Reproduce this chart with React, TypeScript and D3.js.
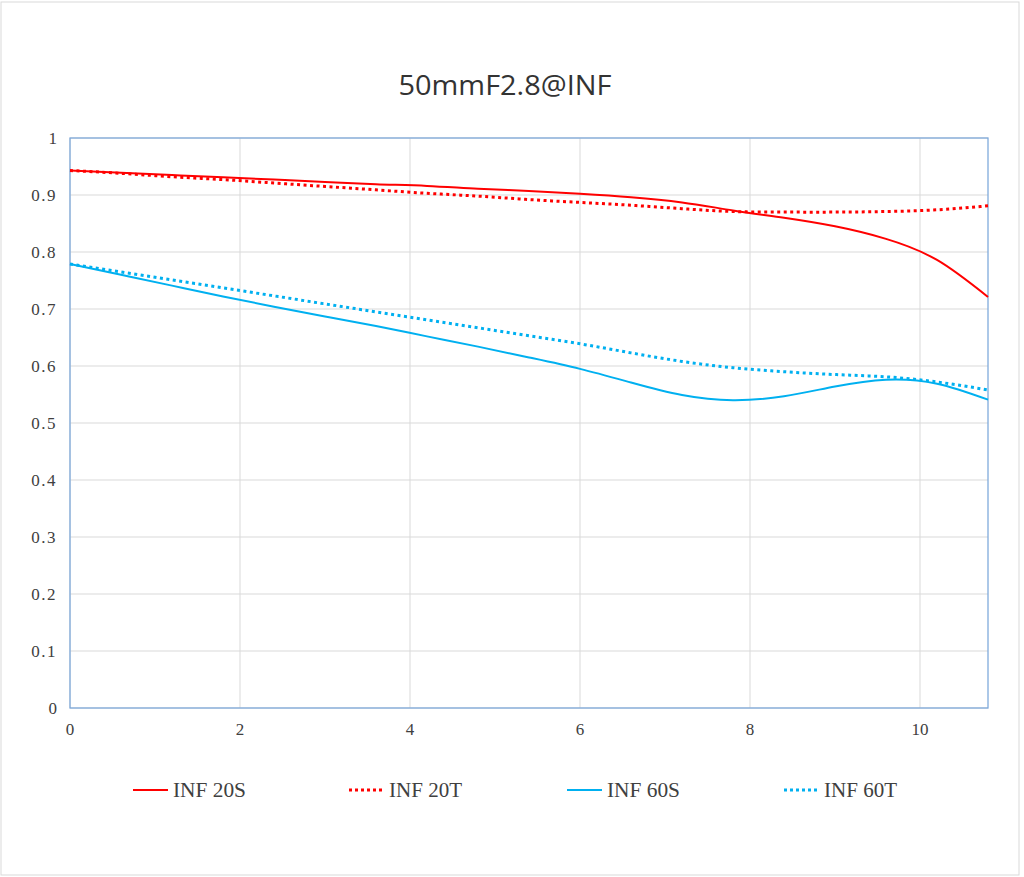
import * as d3 from 'd3';
import React from 'react';

// 공통 x 값 (image height, mm) - 0.6 간격
const xValues: number[] = [0, 0.6, 1.2, 1.8, 2.4, 3.0, 3.6, 4.2, 4.8, 5.4, 6.0, 6.6, 7.2, 7.8, 8.4, 9.0, 9.6, 10.2, 10.8];

// 각 시리즈 MTF 값
const inf20S: number[] = [0.943, 0.939, 0.935, 0.931, 0.927, 0.923, 0.919, 0.916, 0.911, 0.907, 0.902, 0.896, 0.887, 0.873, 0.860, 0.845, 0.823, 0.786, 0.721];
const inf20T: number[] = [0.943, 0.938, 0.932, 0.927, 0.921, 0.915, 0.909, 0.903, 0.898, 0.892, 0.887, 0.882, 0.876, 0.871, 0.870, 0.870, 0.871, 0.874, 0.881];
const inf60S: number[] = [0.779, 0.760, 0.741, 0.722, 0.704, 0.687, 0.670, 0.652, 0.634, 0.615, 0.595, 0.571, 0.549, 0.540, 0.547, 0.564, 0.576, 0.569, 0.541];
const inf60T: number[] = [0.779, 0.765, 0.751, 0.737, 0.723, 0.709, 0.695, 0.681, 0.667, 0.653, 0.639, 0.623, 0.608, 0.597, 0.590, 0.585, 0.581, 0.572, 0.558];

const seriesNames: string[] = ['INF 20S', 'INF 20T', 'INF 60S', 'INF 60T'];
const seriesColors: string[] = ['#FF0000', '#FF0000', '#00B0F0', '#00B0F0'];
const seriesDotted: boolean[] = [false, true, false, true];
const seriesValues: number[][] = [inf20S, inf20T, inf60S, inf60T];

const xTicks: number[] = [0, 2, 4, 6, 8, 10];
const yTicks: number[] = [0, 0.1, 0.2, 0.3, 0.4, 0.5, 0.6, 0.7, 0.8, 0.9, 1];
const title = '50mmF2.8@INF';

const width = 1024;
const height = 877;
const margin = { top: 138, right: 36, bottom: 169, left: 70 };

const App: React.FC = () => {
    const x = d3
        .scaleLinear()
        .domain([0, 10.8])
        .range([margin.left, width - margin.right]);

    const y = d3
        .scaleLinear()
        .domain([0, 1])
        .range([height - margin.bottom, margin.top]);

    const line = d3
        .line<[number, number]>()
        .x((d) => x(d[0]))
        .y((d) => y(d[1]))
        .curve(d3.curveNatural);

    const legendX = [133, 349, 567, 784];
    const legendY = 790;

    return (
        <svg
            width={width}
            height={height}
            style={{ position: 'absolute', left: 0, top: 0, background: '#fff' }}
        >
            <rect x={1} y={2} width={1018} height={873} fill="#fff" stroke="#D9D9D9" strokeWidth={1} />

            <text
                x={505}
                y={95}
                textAnchor="middle"
                fontFamily="'Open Sans', 'Noto Sans', sans-serif"
                fontSize={28}
                fill="#333"
                textLength={213}
                lengthAdjust="spacingAndGlyphs"
            >
                {title}
            </text>

            {/* 그리드 */}
            <g stroke="#D9D9D9" strokeWidth={1}>
                {yTicks.map((t) => (
                    <line key={'gy' + t} x1={x(0)} x2={x(10.8)} y1={y(t)} y2={y(t)} />
                ))}
                {xTicks.map((t) => (
                    <line key={'gx' + t} x1={x(t)} x2={x(t)} y1={y(0)} y2={y(1)} />
                ))}
            </g>

            <rect
                x={x(0)}
                y={y(1)}
                width={x(10.8) - x(0)}
                height={y(0) - y(1)}
                fill="none"
                stroke="#7BA7DB"
                strokeWidth={1.25}
            />

            {/* 축 라벨 */}
            <g fontFamily="'Liberation Serif', 'DejaVu Serif', serif" fontSize={17} fill="#404040">
                {yTicks.map((t) => (
                    <text key={'ly' + t} x={57} y={y(t)} dy="0.35em" textAnchor="end" letterSpacing={t === 0 || t === 1 ? 0 : 1.5}>
                        {t === 0 || t === 1 ? String(t) : t.toFixed(1)}
                    </text>
                ))}
                {xTicks.map((t) => (
                    <text key={'lx' + t} x={x(t)} y={y(0) + 21} dy="0.35em" textAnchor="middle">
                        {t}
                    </text>
                ))}
            </g>

            {/* 시리즈 */}
            {seriesValues.map((vals, i) => (
                <path
                    key={seriesNames[i]}
                    d={line(vals.map((v, j) => [xValues[j], v] as [number, number])) ?? ''}
                    fill="none"
                    stroke={seriesColors[i]}
                    strokeWidth={seriesDotted[i] ? 3 : 2}
                    strokeDasharray={seriesDotted[i] ? '3 3.5' : undefined}
                />
            ))}

            {/* 범례 */}
            {seriesNames.map((name, i) => (
                <g key={'lg' + name}>
                    <line
                        x1={legendX[i]}
                        x2={legendX[i] + 35}
                        y1={legendY}
                        y2={legendY}
                        stroke={seriesColors[i]}
                        strokeWidth={seriesDotted[i] ? 3 : 2}
                        strokeDasharray={seriesDotted[i] ? '3 3' : undefined}
                    />
                    <text
                        x={legendX[i] + 40}
                        y={legendY}
                        dy="0.35em"
                        fontFamily="'Liberation Serif', 'DejaVu Serif', serif"
                        fontSize={20}
                        fill="#404040"
                        textLength={73}
                        lengthAdjust="spacingAndGlyphs"
                    >
                        {name}
                    </text>
                </g>
            ))}
        </svg>
    );
};

export default App;
